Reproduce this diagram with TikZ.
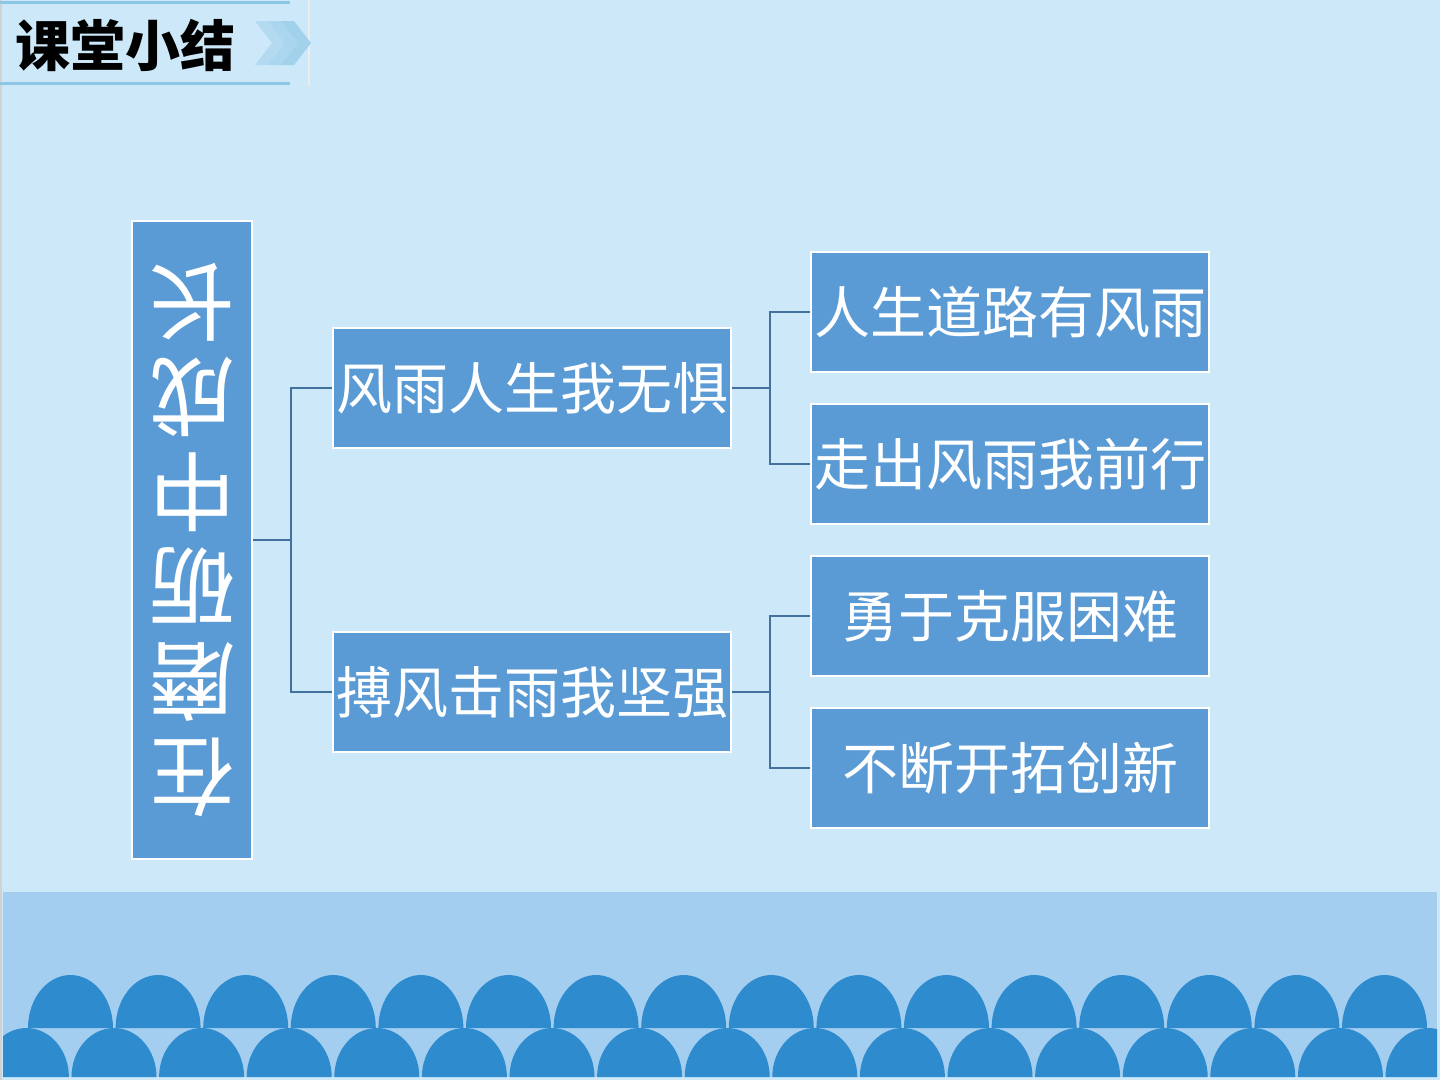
\documentclass[tikz,border=0pt]{standalone}
\usepackage{fontspec}
\newfontfamily\cjk{Noto Sans CJK SC}
\definecolor{bgc}{RGB}{204,232,249}
\definecolor{boxc}{RGB}{91,155,213}
\definecolor{linec}{RGB}{65,113,156}
\definecolor{bandc}{RGB}{164,206,240}
\definecolor{wavec}{RGB}{46,139,205}
\definecolor{chevc}{RGB}{160,208,236}
\definecolor{topline}{RGB}{140,200,230}
\tikzset{
  boxnode/.style={draw=white, line width=1.5pt, fill=boxc, text=white, inner sep=0pt,
    minimum width=398pt, minimum height=120pt, font=\cjk\fontsize{56}{60}\selectfont},
  conn/.style={draw=linec, line width=1.8pt},
}
\begin{document}
\begin{tikzpicture}[x=1pt,y=-1pt]
\useasboundingbox (0,0) rectangle (1440,1080);
\fill[bgc] (0,0) rectangle (1440,1080);
% left border
\draw[gray!35, line width=2pt] (1,0) -- (1,1080);
% bottom band and waves
\fill[bandc] (3,892) rectangle (1437,1077);
\begin{scope}
  \clip (3,892) rectangle (1437,1077);
  \foreach \k in {0,...,15} {
    \pgfmathsetmacro{\cx}{70.5+87.6*\k}
    \fill[wavec] (\cx-42.5,1028) arc[start angle=180,end angle=360,x radius=42.5,y radius=53] -- cycle;
  }
  \foreach \k in {-1,...,15} {
    \pgfmathsetmacro{\cx}{114+87.6*\k}
    \fill[wavec] (\cx-42.5,1077) arc[start angle=180,end angle=360,x radius=42.5,y radius=49] -- cycle;
  }
\end{scope}
% title area
\draw[topline, line width=3pt] (0,2) -- (290,2);
\draw[topline, line width=3pt] (0,83) -- (290,83);
\draw[white!85!gray, line width=1.5pt] (309,0) -- (309,86);
\foreach \x/\o in {255/0.55,268/0.75,281/0.95} {
  \fill[chevc, opacity=\o] (\x,21) -- (\x+13,21) -- (\x+30,43) -- (\x+13,65) -- (\x,65) -- (\x+17,43) -- cycle;
}
\node[font=\cjk\bfseries\fontsize{55}{60}\selectfont, text=black, inner sep=0pt] (title) at (125,45) {课堂小结};
% nodes
\node[boxnode, minimum width=120pt, minimum height=638pt, align=center, rotate=180,
  font=\cjk\fontsize{86}{95}\selectfont] (root) at (192,540) {在\\磨\\砺\\中\\成\\长};
\node[boxnode] (m1) at (532,388) {风雨人生我无惧};
\node[boxnode] (m2) at (532,692) {搏风击雨我坚强};
\node[boxnode] (r1) at (1010,312) {人生道路有风雨};
\node[boxnode] (r2) at (1010,464) {走出风雨我前行};
\node[boxnode] (r3) at (1010,616) {勇于克服困难};
\node[boxnode] (r4) at (1010,768) {不断开拓创新};
% connectors
\draw[conn] (root.west) -| ([xshift=-41pt]m1.west) -- (m1.west);
\draw[conn] (root.west) -| ([xshift=-41pt]m2.west) -- (m2.west);
\draw[conn] (m1.east) -| ([xshift=-40pt]r1.west) -- (r1.west);
\draw[conn] (m1.east) -| ([xshift=-40pt]r2.west) -- (r2.west);
\draw[conn] (m2.east) -| ([xshift=-40pt]r3.west) -- (r3.west);
\draw[conn] (m2.east) -| ([xshift=-40pt]r4.west) -- (r4.west);
\end{tikzpicture}
\end{document}
